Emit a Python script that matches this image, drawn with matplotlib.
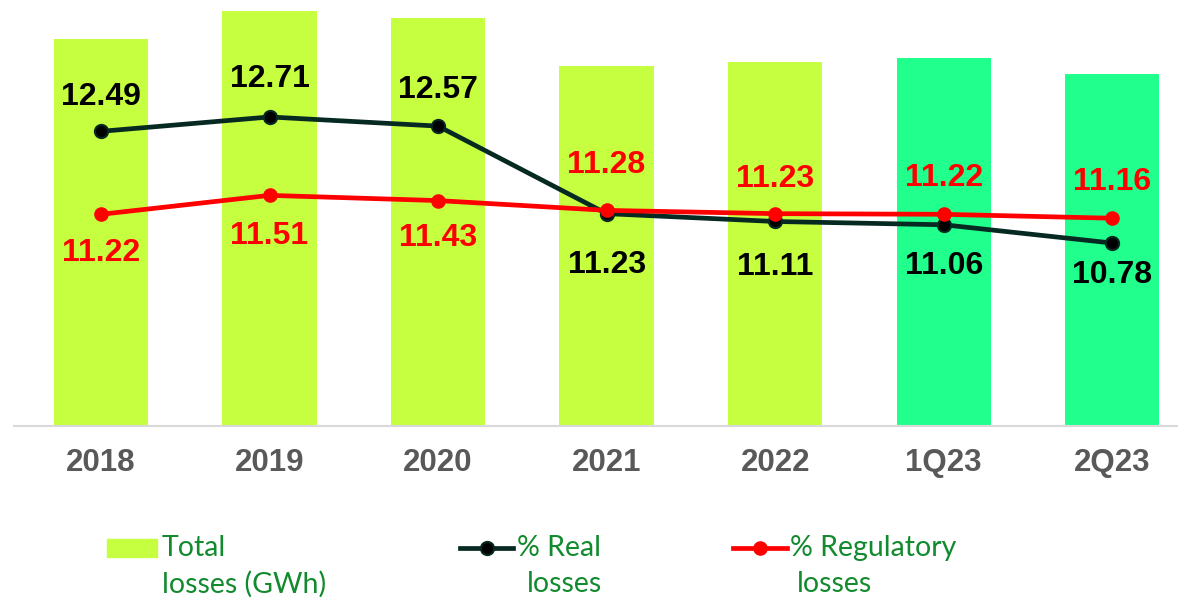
import matplotlib.pyplot as plt
from matplotlib.patches import Rectangle
from matplotlib.lines import Line2D

periods = ["2018", "2019", "2020", "2021", "2022", "1Q23", "2Q23"]
total_losses_gwh = [3870, 4150, 4080, 3600, 3640, 3680, 3520]
real_losses = [12.49, 12.71, 12.57, 11.23, 11.11, 11.06, 10.78]
reg_losses = [11.22, 11.51, 11.43, 11.28, 11.23, 11.22, 11.16]

bar_colors = ["#c6ff3f"] * 5 + ["#21ff8c"] * 2
real_color = "#062a22"
reg_color = "#ff0000"
legend_green = "#128a2e"

# label offsets in points (dy relative to the marker)
real_dy = [25, 27, 26, -37, -33, -30, -23]
reg_dy = [-28, -29, -27, 33, 25, 26, 26]

plt.rcParams["font.family"] = ["Liberation Sans", "DejaVu Sans"]

fig = plt.figure(figsize=(11.78, 5.99), dpi=100)
ax = fig.add_axes([14 / 1178, 173 / 599, 1164 / 1178, 426 / 599])
x = list(range(len(periods)))

ax.bar(x, total_losses_gwh, width=0.56, color=bar_colors, zorder=1)
ax.set_xlim(-0.516, 6.39)
ax.set_ylim(0, 4260)
ax.set_yticks([])
for s in ["top", "right", "left"]:
    ax.spines[s].set_visible(False)
ax.spines["bottom"].set_color("#d9d9d9")
ax.spines["bottom"].set_linewidth(1.5)
ax.set_xticks(x)
ax.set_xticklabels(periods, fontsize=22.5, fontweight="bold", color="#595959")
ax.tick_params(axis="x", length=0, pad=16)

ax2 = ax.twinx()
ax2.set_ylim(7.98, 14.50)
ax2.set_yticks([])
for s in ax2.spines.values():
    s.set_visible(False)

real_style = dict(color=real_color, lw=3.4, marker="o", ms=9.5,
                  mfc="black", mec=real_color, mew=1.5)
reg_style = dict(color=reg_color, lw=3.4, marker="o", ms=9.5,
                 mfc=reg_color, mec=reg_color)

ax2.plot(x, real_losses, zorder=3, **real_style)
ax2.plot(x, reg_losses, zorder=4, **reg_style)

for xi, v, dy in zip(x, real_losses, real_dy):
    ax2.annotate(f"{v:.2f}", (xi, v), xytext=(0, dy), textcoords="offset points",
                 ha="center", va="center", fontsize=23, fontweight="bold", color="black")
for xi, v, dy in zip(x, reg_losses, reg_dy):
    ax2.annotate(f"{v:.2f}", (xi, v), xytext=(0, dy), textcoords="offset points",
                 ha="center", va="center", fontsize=23, fontweight="bold", color=reg_color)

# legend drawn by hand so the handles sit on the first text line
W, H = 1178, 599
def fx(px):
    return px / W
def fy(py):
    return 1 - py / H

fig.patches.append(Rectangle((fx(107), fy(557)), fx(157) - fx(107), fy(539) - fy(557),
                             transform=fig.transFigure, color="#c6ff3f"))

def legend_line(x0, x1, style):
    line_only = {k: v for k, v in style.items() if k in ("color", "lw")}
    fig.lines.append(Line2D([fx(x0), fx(x1)], [fy(548)] * 2,
                            transform=fig.transFigure, **line_only))
    dot = {k: v for k, v in style.items() if k not in ("color", "lw")}
    fig.lines.append(Line2D([fx((x0 + x1) / 2)], [fy(548)], ls="none",
                            transform=fig.transFigure, **dot))

legend_line(460, 513, real_style)
legend_line(733, 787, reg_style)

leg_font = dict(fontsize=20.5, color=legend_green, family=["Lato", "DejaVu Sans"], va="center")
fig.text(fx(162), fy(548), "Total", **leg_font)
fig.text(fx(162), fy(584), "losses (GWh)", **leg_font)
fig.text(fx(517), fy(548), "% Real", **leg_font)
fig.text(fx(527), fy(584), "losses", **leg_font)
fig.text(fx(790), fy(548), "% Regulatory", **leg_font)
fig.text(fx(797), fy(584), "losses", **leg_font)

fig.savefig("out.png", dpi=100)
